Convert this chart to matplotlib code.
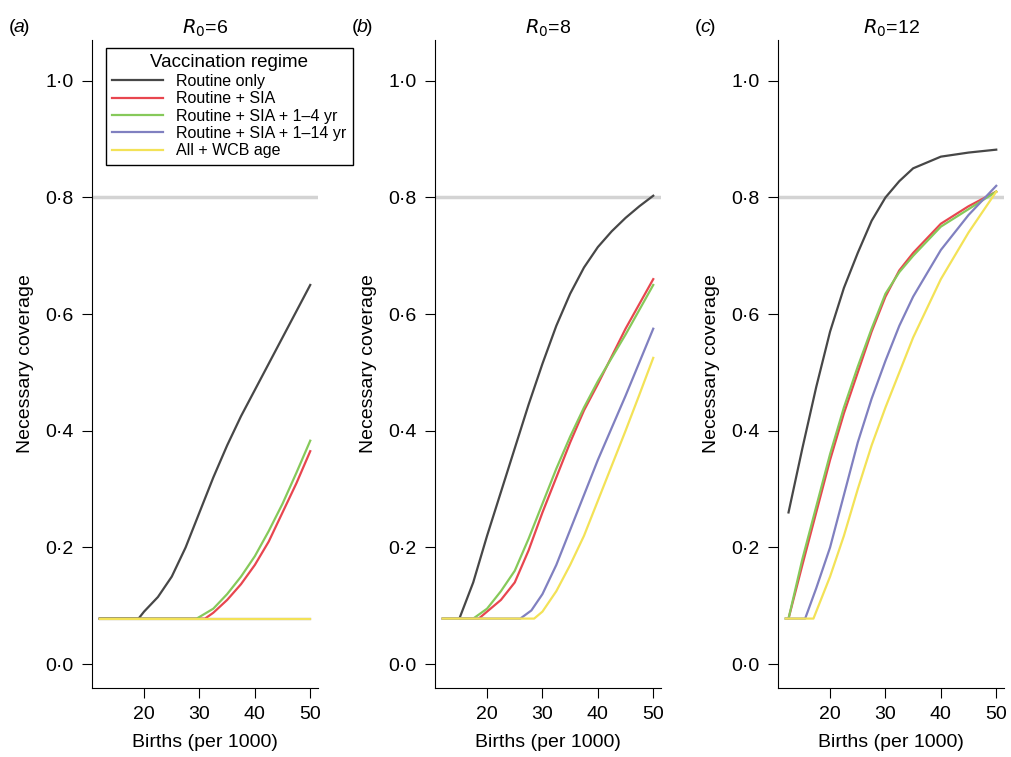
import matplotlib
matplotlib.use("Agg")
import matplotlib.pyplot as plt

plt.rcParams['font.family'] = ['Liberation Sans', 'DejaVu Sans']

R0 = [6, 8, 12]
labels = ["Routine only", "Routine + SIA", "Routine + SIA + 1–4 yr",
          "Routine + SIA + 1–14 yr", "All + WCB age"]
colors = ["#474747", "#e8464f", "#86c95a", "#8080c0", "#f3e257"]

# panel a
a_x = [[12, 19, 20, 22.5, 25, 27.5, 30, 32.5, 35, 37.5, 40, 45, 50],
       [12, 31, 32.5, 35, 37.5, 40, 42.5, 45, 47.5, 50],
       [12, 29.5, 32.5, 35, 37.5, 40, 42.5, 45, 47.5, 50],
       [12, 50], [12, 50]]
a_y = [[0.078, 0.078, 0.09, 0.115, 0.15, 0.20, 0.26, 0.32, 0.375, 0.425, 0.47, 0.56, 0.65],
       [0.078, 0.078, 0.088, 0.11, 0.137, 0.17, 0.21, 0.26, 0.31, 0.365],
       [0.078, 0.078, 0.095, 0.12, 0.15, 0.185, 0.228, 0.275, 0.328, 0.383],
       [0.078, 0.078], [0.078, 0.078]]
# panel b
b_x = [[15, 17.5, 20, 22.5, 25, 27.5, 30, 32.5, 35, 37.5, 40, 42.5, 45, 47.5, 50],
       [12, 18.5, 20, 22.5, 25, 27.5, 30, 32.5, 35, 37.5, 40, 45, 50],
       [12, 17.5, 20, 22.5, 25, 27.5, 30, 32.5, 35, 37.5, 40, 45, 50],
       [12, 26, 28, 30, 32.5, 35, 37.5, 40, 45, 50],
       [12, 28.5, 30, 32.5, 35, 37.5, 40, 42.5, 45, 47.5, 50]]
b_y = [[0.078, 0.14, 0.22, 0.295, 0.37, 0.445, 0.515, 0.58, 0.635, 0.68, 0.715, 0.742, 0.765, 0.785, 0.803],
       [0.078, 0.078, 0.09, 0.11, 0.14, 0.195, 0.26, 0.32, 0.38, 0.435, 0.48, 0.575, 0.66],
       [0.078, 0.078, 0.095, 0.125, 0.16, 0.215, 0.275, 0.335, 0.39, 0.44, 0.485, 0.565, 0.65],
       [0.078, 0.078, 0.092, 0.12, 0.17, 0.23, 0.29, 0.35, 0.46, 0.575],
       [0.078, 0.078, 0.09, 0.125, 0.17, 0.22, 0.28, 0.34, 0.40, 0.462, 0.525]]
# panel c
c_x = [[12.5, 15, 17.5, 20, 22.5, 25, 27.5, 30, 32.5, 35, 40, 45, 50],
       [12.5, 15, 17.5, 20, 22.5, 25, 27.5, 30, 32.5, 35, 40, 45, 50],
       [12, 12.5, 15, 17.5, 20, 22.5, 25, 27.5, 30, 32.5, 35, 40, 45, 50],
       [12, 15.5, 17.5, 20, 22.5, 25, 27.5, 30, 32.5, 35, 40, 45, 50],
       [12, 17, 20, 22.5, 25, 27.5, 30, 32.5, 35, 40, 45, 50]]
c_y = [[0.26, 0.37, 0.475, 0.57, 0.645, 0.705, 0.76, 0.80, 0.828, 0.85, 0.87, 0.877, 0.882],
       [0.078, 0.17, 0.26, 0.35, 0.43, 0.50, 0.57, 0.63, 0.675, 0.705, 0.755, 0.785, 0.81],
       [0.078, 0.078, 0.18, 0.27, 0.36, 0.44, 0.51, 0.575, 0.635, 0.672, 0.70, 0.75, 0.78, 0.81],
       [0.078, 0.078, 0.13, 0.20, 0.29, 0.38, 0.455, 0.52, 0.58, 0.63, 0.71, 0.77, 0.82],
       [0.078, 0.078, 0.15, 0.22, 0.30, 0.375, 0.44, 0.50, 0.56, 0.66, 0.74, 0.81]]
panels = [(a_x, a_y), (b_x, b_y), (c_x, c_y)]
letters = ["a", "b", "c"]

W, H = 1012, 757
fig = plt.figure(figsize=(W / 100, H / 100), dpi=100)
for i, (xs, ys) in enumerate(panels):
    left = 92 + 343 * i
    ax = fig.add_axes([left / W, (H - 688) / H, 226 / W, (688 - 40) / H])
    ax.set_xlim(10.6, 51.4)
    ax.set_ylim(-0.041, 1.07)
    ax.axhline(0.8, color="#d3d3d3", lw=2.5, zorder=1)
    for k in range(5):
        ax.plot(xs[k], ys[k], color=colors[k], lw=1.6, label=labels[k], zorder=3 + k)
    for s in ["top", "right"]:
        ax.spines[s].set_visible(False)
    ax.set_xticks([20, 30, 40, 50])
    ax.set_yticks([0, 0.2, 0.4, 0.6, 0.8, 1.0])
    ax.set_yticklabels(["0·0", "0·2", "0·4", "0·6", "0·8", "1·0"])
    ax.tick_params(labelsize=14, length=7, pad=6)
    ax.set_xlabel("Births (per 1000)", fontsize=14, labelpad=8)
    ax.set_ylabel("Necessary coverage", fontsize=14, labelpad=8)
    fig.text((left + 113) / W, (H - 28) / H, r"$R_0$=%d" % R0[i], fontsize=14, ha="center", va="center")
    fig.text((left - 83) / W, (H - 28) / H, "(", fontsize=14, ha="left", va="center")
    fig.text((left - 78) / W, (H - 28) / H, letters[i], fontsize=14, style="italic", ha="left", va="center")
    fig.text((left - 69) / W, (H - 28) / H, ")", fontsize=14, ha="left", va="center")
    if i == 0:
        leg = ax.legend(title="Vaccination regime", loc="upper left",
                        bbox_to_anchor=(0.025, 1.0), fontsize=11.5, title_fontsize=13.5,
                        fancybox=False, edgecolor="black", framealpha=1,
                        handlelength=3.2, borderpad=0.4, labelspacing=0.15, handletextpad=0.8)
        leg.get_frame().set_linewidth(1.0)
fig.savefig("out.png", dpi=100)
